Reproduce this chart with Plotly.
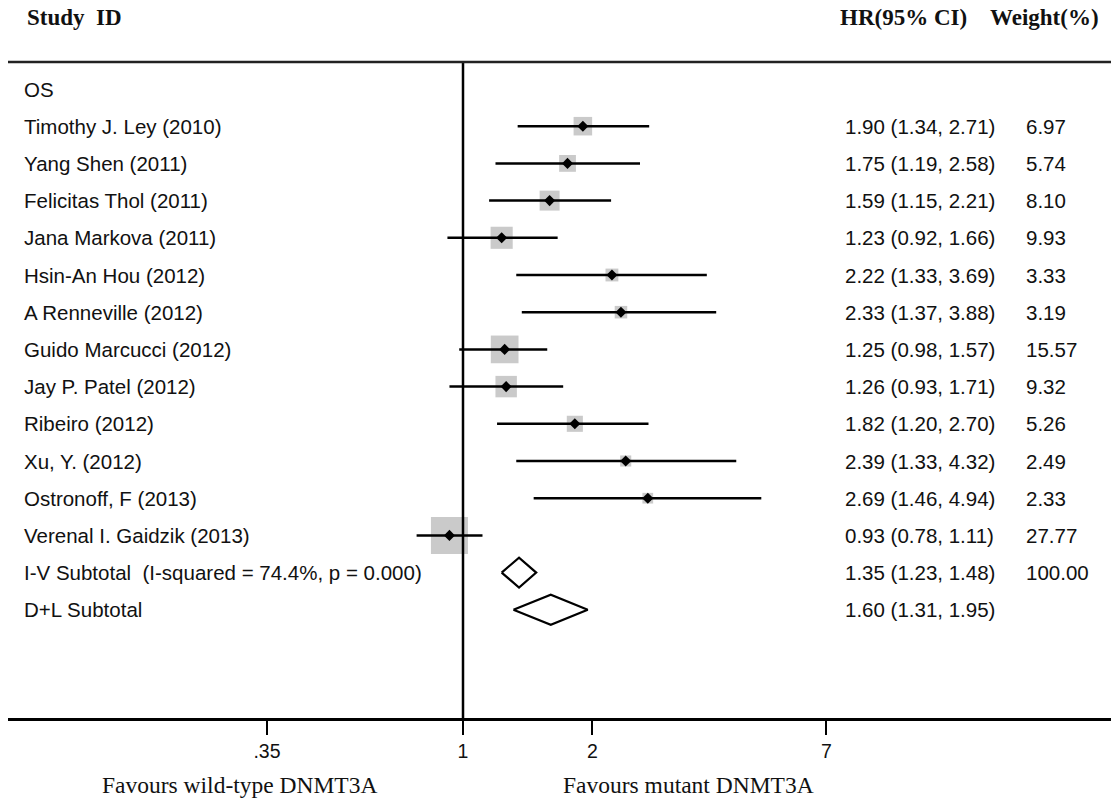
import plotly.graph_objects as go
import math

# ---------------- data ----------------
studies = ["Timothy J. Ley (2010)", "Yang Shen (2011)", "Felicitas Thol (2011)",
           "Jana Markova (2011)", "Hsin-An Hou (2012)", "A Renneville (2012)",
           "Guido Marcucci (2012)", "Jay P. Patel (2012)", "Ribeiro (2012)",
           "Xu, Y. (2012)", "Ostronoff, F (2013)", "Verenal I. Gaidzik (2013)"]
hr = [1.90, 1.75, 1.59, 1.23, 2.22, 2.33, 1.25, 1.26, 1.82, 2.39, 2.69, 0.93]
ci_lo = [1.34, 1.19, 1.15, 0.92, 1.33, 1.37, 0.98, 0.93, 1.20, 1.33, 1.46, 0.78]
ci_hi = [2.71, 2.58, 2.21, 1.66, 3.69, 3.88, 1.57, 1.71, 2.70, 4.32, 4.94, 1.11]
weights = [6.97, 5.74, 8.10, 9.93, 3.33, 3.19, 15.57, 9.32, 5.26, 2.49, 2.33, 27.77]

pooled_labels = ["I-V Subtotal  (I-squared = 74.4%, p = 0.000)", "D+L Subtotal"]
pooled_hr = [1.35, 1.60]
pooled_lo = [1.23, 1.31]
pooled_hi = [1.48, 1.95]
pooled_weight = ["100.00", ""]

group_label = "OS"
tick_vals = [0.35, 1, 2, 7]
tick_text = [".35", "1", "2", "7"]

# ---------------- layout helpers ----------------
W, H = 1111, 801
L, R, T, B = 8, 0, 62, 83
plot_w = W - L - R
row_px = 37.2
first_row_px = 89
px_per_decade = 430.0
one_px = 463

def pxp(px):  # pixel x -> paper x
    return (px - L) / plot_w

x_range = [(L - one_px) / px_per_decade, (W - R - one_px) / px_per_decade]
y_top = -(first_row_px - T) / row_px
y_bot = (H - B - first_row_px) / row_px

study_rows = [i + 1 for i in range(len(studies))]
pooled_rows = [len(studies) + 1 + i for i in range(len(pooled_labels))]

fig = go.Figure()

# grey weight squares
max_w = max(weights)
fig.add_trace(go.Scatter(
    x=hr, y=study_rows, mode="markers",
    marker=dict(symbol="square", color="rgb(180,180,180)",
                size=[37 * math.sqrt(w / max_w) for w in weights],
                line=dict(width=0)),
    hoverinfo="skip", showlegend=False))

# CI lines
lx, ly = [], []
for lo_, hi_, r in zip(ci_lo, ci_hi, study_rows):
    lx += [lo_, hi_, None]
    ly += [r, r, None]
fig.add_trace(go.Scatter(x=lx, y=ly, mode="lines",
                         line=dict(color="black", width=2.5),
                         hoverinfo="skip", showlegend=False))

# vertical null line at 1
fig.add_trace(go.Scatter(x=[1, 1], y=[y_top, y_bot], mode="lines",
                         line=dict(color="black", width=2.5),
                         hoverinfo="skip", showlegend=False))

# point estimates
fig.add_trace(go.Scatter(x=hr, y=study_rows, mode="markers",
                         marker=dict(symbol="diamond", color="black", size=8.5),
                         hoverinfo="skip", showlegend=False))

# pooled diamonds
dh = 15 / row_px
for est, lo_, hi_, r in zip(pooled_hr, pooled_lo, pooled_hi, pooled_rows):
    fig.add_trace(go.Scatter(
        x=[lo_, est, hi_, est, lo_], y=[r, r - dh, r, r + dh, r],
        mode="lines", line=dict(color="black", width=2.2),
        hoverinfo="skip", showlegend=False))

# ---------------- text ----------------
ann = []
sans = "Liberation Sans, Arial, sans-serif"
serif = "Liberation Serif, Times New Roman, serif"
fs = 20.5

def add_text(text, px, row, anchor="left", size=fs, family=sans, yref="y"):
    ann.append(dict(text=text, x=pxp(px), xref="paper", y=row, yref=yref,
                    xanchor=anchor, yanchor="middle", showarrow=False,
                    font=dict(family=family, size=size, color="#111111")))

add_text(group_label, 22, 0)
for name, h_, l_, u_, w_, r in zip(studies, hr, ci_lo, ci_hi, weights, study_rows):
    add_text(name, 22, r)
    add_text(f"{h_:.2f} ({l_:.2f}, {u_:.2f})", 843, r)
    add_text(f"{w_:.2f}", 1024, r)
for name, h_, l_, u_, w_, r in zip(pooled_labels, pooled_hr, pooled_lo, pooled_hi, pooled_weight, pooled_rows):
    add_text(name, 22, r)
    add_text(f"{h_:.2f} ({l_:.2f}, {u_:.2f})", 843, r)
    if w_:
        add_text(w_, 1024, r)

# headers (paper y)
def paper_y(px):
    return (H - B - px) / (H - T - B)

add_text("<b>Study\u00a0 ID</b>", 25, paper_y(18), size=23, family=serif, yref="paper")
add_text("<b>HR(95% CI)</b>", 838, paper_y(18), size=23, family=serif, yref="paper")
add_text("<b>Weight(%)</b>", 988, paper_y(18), size=23, family=serif, yref="paper")

# bottom favours labels
add_text("Favours wild-type DNMT3A", 239, paper_y(785), anchor="center", size=23.5, family=serif, yref="paper")
add_text("Favours mutant DNMT3A", 688, paper_y(785), anchor="center", size=23.5, family=serif, yref="paper")

fig.update_layout(
    width=W, height=H,
    margin=dict(l=L, r=R, t=T, b=B, pad=0),
    paper_bgcolor="white", plot_bgcolor="white",
    annotations=ann,
    shapes=[dict(type="line", xref="paper", yref="paper", x0=0, x1=1, y0=1, y1=1,
                 line=dict(color="#222222", width=2.5))],
    xaxis=dict(type="log", range=x_range, tickvals=tick_vals, ticktext=tick_text,
               showgrid=False, zeroline=False, showline=True, linecolor="black",
               linewidth=2.5, ticks="outside", ticklen=14, tickwidth=2,
               tickcolor="black",
               tickfont=dict(family="Liberation Sans Narrow, Liberation Sans, Arial", size=19.5, color="#111111"),
               fixedrange=True),
    yaxis=dict(range=[y_bot, y_top], showgrid=False, zeroline=False,
               showticklabels=False, showline=False, fixedrange=True),
)

fig.write_html("out.html", config={"displayModeBar": False},
               post_script="document.body.style.margin='0';document.body.style.padding='0';")
